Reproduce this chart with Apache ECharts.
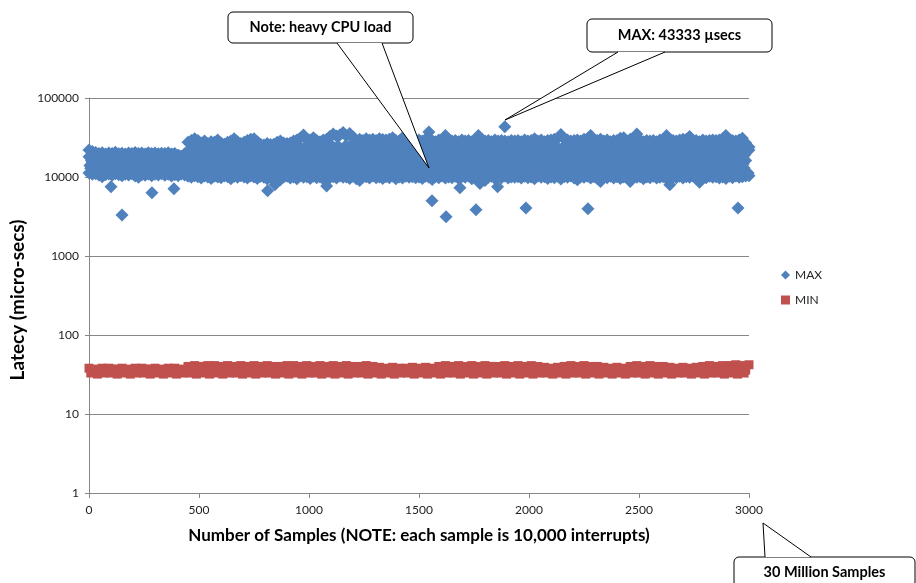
<!DOCTYPE html>
<html><head><meta charset="utf-8">
<script src="https://cdn.jsdelivr.net/npm/echarts@6/dist/echarts.min.js"></script>
<style>html,body{margin:0;padding:0;background:#fff}#c{width:916px;height:583px}</style>
</head><body><div id="c"></div><script>
// ---- DATA (latency in micro-seconds, x = sample number) ----
const xTicks = [0, 500, 1000, 1500, 2000, 2500, 3000];
const yTicks = [1, 10, 100, 1000, 10000, 100000];
const seriesNames = ['MAX', 'MIN'];

// MAX: upper edge of the cloud, one reading every 15 samples (0..3000)
const maxTopStep = 15;
const maxTop = [
 22000,21000,20400,19800,20300,19600,20100,19900,20500,19700,
 20000,19600,20200,19800,20400,19900,20100,19500,20300,19800,
 20200,19700,20000,19900,20300,19600,19800,18800,18300,19500,
 27500,29000,30500,29000,27000,28500,26500,28000,27500,29500,
 27000,26000,27500,28500,30500,28000,26500,27500,29000,30000,
 30500,28000,26000,25500,26500,25800,26000,27500,28500,27000,
 26500,27000,28500,29500,31000,34000,30000,29500,31500,29000,
 28000,29500,30000,32500,35000,33000,34000,36500,33000,35500,
 32000,29500,30000,29000,30500,29500,30000,29000,30500,29800,
 29500,30000,31500,29000,28500,31500,29500,28500,29500,28800,
 29500,28500,30000,37000,29000,28000,29500,30000,33500,30000,
 28500,29000,28000,29500,28500,29000,28000,29500,33500,30000,
 28500,29000,28000,29500,28500,29000,28500,28000,29000,28500,
 29000,28000,29500,28500,29000,30500,28500,29500,28000,29000,
 29500,30000,31000,34500,30500,29500,28500,29000,29500,28500,
 30000,30500,33500,28500,29000,30000,28500,29500,28000,29000,
 29000,31000,31500,28500,30000,29000,35000,29500,28000,29000,
 28500,29000,28000,29500,29000,33500,30000,29000,28500,29500,
 30000,30000,32500,28500,29000,28000,29500,28500,29000,29500,
 29000,29500,30500,33500,30000,29000,28500,29500,31000,27000,
 24000
];
// MAX: lower edge of the cloud, every 15 samples
const maxBottom = [
 11200,10800,11000,10600,10100,10700,10900,10500,11000,10700,
 10400,10800,10600,11000,10300,9900,10700,10500,10900,10400,
 10800,10600,11000,10500,10800,10300,10700,10400,10900,10600,
 10200,9900,10400,10100,9700,10300,10000,9600,10200,10000,
 9800,10300,10100,9500,10200,9900,10400,10000,9700,10300,
 10000,9600,10200,9900,9400,10100,10300,9800,9200,10000,
 10200,9700,10000,9500,10300,9900,10100,9600,10200,9800,
 10000,9400,10200,9800,10100,9700,10300,9900,10000,9600,
 10200,9500,9000,9900,10100,9700,10300,9800,10000,9600,
 10100,9800,10300,9500,10000,9700,10200,9900,10100,9800,
 10000,9600,10200,9900,9300,10100,9800,10300,9700,10000,
 9800,10200,9600,10100,9900,10300,9500,10000,9700,10200,
 9000,9900,10200,9600,10100,9800,10300,9700,10000,9900,
 10100,9700,10200,9800,10000,9500,10300,9900,10100,9600,
 10000,9800,10200,9400,10100,9900,10300,9700,9200,10000,
 9900,10200,9700,10100,9600,8800,10000,9800,10200,9700,
 10100,9600,10000,9800,8800,10200,9900,10100,9500,10000,
 9800,10200,9700,9900,10100,9600,8000,10000,9800,10200,
 9700,10100,9900,10300,9600,8600,10000,9800,10200,9900,
 10100,9700,10000,9600,10200,9800,10300,9900,10100,10300,
 10400
];
// MAX: body of the cloud, every 30 samples (interleaved readings)
const maxFillStep = 30;
const maxHigh = [
 19000,18600,19300,18800,19100,18500,19200,18900,19400,18700,19000,18600,19200,18400,18000,
 24800,23600,25400,24200,25800,23800,24600,25200,23400,24900,
 25600,24000,24400,25000,23700,25500,24300,23900,25100,24700,
 23500,25300,24600,24100,25700,23800,24500,25000,24200,23600,
 25400,24800,23900,25200,24400,25800,23700,24600,25100,24000,
 24700,25500,23800,24300,25000,24500,23600,25300,24100,24900,
 25600,23900,24400,25200,24000,24800,23500,25400,24600,24200,
 25000,23800,25700,24300,24700,25100,23700,24500,25300,24100,
 23900,25500,24400,24800,23600,25000,24200,25600,24600,23800,
 24900,25200,24000,24500,23700
];
const maxUpper = [
 18000,17200,17800,17000,17600,17300,17900,17100,17700,17400,17800,17000,17500,17200,16800,
 21500,23000,22000,24000,21000,22500,23500,21500,22800,20800,
 23200,22000,21200,23800,22400,21000,22600,23400,21800,22200,
 20600,23600,22000,21400,24200,22800,21000,22400,23000,21600,
 22800,20800,23400,22000,21200,23800,22600,21000,22200,23200,
 21400,22800,20600,23600,22400,21800,23000,21200,22600,23400,
 21600,22000,24000,21000,22800,22200,20800,23200,22400,21400,
 23600,22000,21200,22800,23400,21600,22200,20800,23000,22600,
 21400,23800,22000,21000,22400,23200,21800,22800,21200,22600,
 23000,21400,22200,23600,21800,22000
];
const maxMidHigh = [
 16200,16500,16000,16400,16100,16600,15900,16300,16500,16000,16400,16200,16600,16100,16300,
 19200,18600,19600,18900,19400,18700,19800,19000,18500,19300,
 18800,19500,19100,18600,19700,18900,19200,18700,19400,19000,
 18500,19600,18800,19300,19100,18600,19800,18900,19200,18700,
 19500,19000,18600,19400,18800,19700,19100,18500,19300,18900,
 19600,18700,19200,19000,18600,19500,18800,19400,19100,18700,
 19800,18900,19300,18600,19200,19000,18500,19600,18800,19400,
 19100,18700,19500,18900,19200,18600,19700,19000,18800,19300,
 18700,19600,19100,18500,19400,18900,19200,18800,19500,19000,
 18600,19300,18900,19700,19100
];
const maxMiddle = [
 15200,14800,15400,14600,15100,14900,15300,14700,15200,14800,15000,14600,15300,14900,15100,
 16800,16000,17400,16400,15800,17000,16600,15600,17200,16200,
 16800,15900,17500,16300,16000,17100,16500,15700,16900,16400,
 17300,15800,16600,17000,16200,15600,17400,16800,16000,16500,
 17200,15900,16700,16300,17500,16100,15700,16900,16400,17100,
 16000,16800,15800,17300,16500,16200,17000,15600,16600,17200,
 16300,15900,17400,16700,16100,16900,15800,17100,16400,16000,
 17300,16600,15700,16800,16200,17000,16500,15900,17200,16300,
 16700,16000,17400,16400,15800,16900,16200,17100,16600,16000,
 16800,15700,17000,16400,16200
];
const maxMidLow = [
 14000,13700,14200,13800,14100,13600,14300,13900,14000,13700,14200,13800,14100,13900,14000,
 14600,14200,15000,14400,14800,14100,15200,14500,14300,14900,
 14700,14200,15100,14400,14600,14000,14900,14500,15200,14300,
 14800,14100,14600,15000,14400,14700,14200,15100,14500,14300,
 14900,14600,14000,14800,15200,14400,14700,14100,14500,15000,
 14300,14800,14600,14200,15100,14400,14900,14000,14700,14500,
 15200,14300,14600,14800,14100,15000,14400,14700,14200,14900,
 14500,15100,14300,14600,14000,14800,14400,15000,14700,14200,
 14900,14500,14100,15200,14600,14300,14800,14400,15000,14700,
 14200,14900,14500,14100,14600
];
const maxLower = [
 12900,12500,13100,12400,12800,12600,13000,12300,12900,12500,12700,12400,13000,12600,12800,
 13200,12600,13600,12400,13000,12800,13400,12200,13100,12700,
 13500,12500,12900,13300,12300,13000,12600,13400,12800,12400,
 13200,12700,13600,12300,12900,13100,12500,13400,12800,12200,
 13000,13300,12600,12900,13500,12400,13100,12700,12300,13200,
 12800,13400,12500,13000,12600,13300,12200,12900,13500,12700,
 12400,13100,12800,13400,12300,13000,12600,13200,12900,12500,
 13600,12700,12400,13100,12800,13300,12200,13000,12600,13400,
 12900,12500,13200,12700,13500,12300,13000,12800,12400,13100,
 12600,13300,12900,12500,13000
];
const maxBase = [
 11800,11600,11900,11500,11800,11700,12000,11600,11900,11500,11800,11700,11900,11600,11800,
 11400,11000,11700,11200,11500,11100,11800,11300,11600,11000,
 11400,11900,11200,11500,11100,11700,11300,11600,11000,11400,
 11800,11200,11500,11100,11700,11300,11600,11000,11400,11900,
 11200,11500,11100,11700,11300,11600,11000,11400,11800,11200,
 11500,11100,11700,11300,11600,11000,11400,11900,11200,11500,
 11100,11700,11300,11600,11000,11400,11800,11200,11500,11100,
 11700,11300,11600,11000,11400,11900,11200,11500,11100,11700,
 11300,11600,11000,11400,11800,11200,11500,11100,11700,11300,
 11600,11000,11400,11900,11200
];
// MAX: isolated readings [sample, latency]
const maxOutliers = [
 [100,7500],[150,3300],[286,6300],[386,7100],[812,6700],[845,8000],[1080,7700],
 [1559,5000],[1623,3150],[1686,7300],[1759,3850],[1777,8300],[1857,7500],
 [1890,43333],[1986,4060],[2268,3950],[2950,4060]
];

// MIN: every 30 samples, three interleaved readings
const minStep = 30;
const minHigh = [
 38,37,38,38,37,38,37,38,38,37,38,37,38,38,37,
 40,41,40,41,41,40,41,40,41,40,
 41,40,41,40,40,41,41,40,41,40,
 41,40,41,40,41,40,40,41,40,39,
 38,39,38,38,39,38,39,38,40,41,
 40,41,40,41,40,41,40,40,41,40,
 41,40,41,40,39,38,39,40,41,40,
 41,40,40,39,38,39,38,40,41,40,
 41,40,40,39,38,39,38,39,40,41,
 40,41,41,42,41,42
];
const minMid = [
 36,35,36,37,35,36,36,35,37,36, 35,36,37,36,35,36,37,36,35,37,
 36,35,36,37,36,35,36,37,35,36, 37,36,35,36,36,37,35,36,37,36,
 35,36,37,35,36,36,37,36,35,36, 37,36,35,36,37,36,36,35,37,36,
 35,36,37,36,35,36,37,35,36,37, 36,35,36,37,36,35,36,37,36,35,
 36,37,35,36,37,36,35,36,37,36, 35,36,37,36,35,36,37,36,35,36
];
const minLow = [
 33,32,33,33,32,33,32,33,33,32, 33,32,33,32,33,33,32,33,32,33,
 32,33,33,32,33,32,33,33,32,33, 32,33,32,33,33,32,33,32,33,32,
 33,33,32,33,32,33,32,33,33,32, 33,32,33,32,33,33,32,33,32,33,
 32,33,33,32,33,32,33,32,33,33, 32,33,32,33,33,32,33,32,33,32,
 33,32,33,33,32,33,32,33,32,33, 33,32,33,32,33,33,32,33,32,33
];

// ---- build series data ----
function track(values, step, offset) { return values.map((v, i) => [i * step + offset, v]); }
const maxData = [].concat(
  track(maxTop, maxTopStep, 0),
  track(maxHigh, maxFillStep, 22),
  track(maxUpper, maxFillStep, 0),
  track(maxMidHigh, maxFillStep, 11),
  track(maxMiddle, maxFillStep, 15),
  track(maxMidLow, maxFillStep, 4),
  track(maxLower, maxFillStep, 8),
  track(maxBase, maxFillStep, 26),
  track(maxBottom, maxTopStep, 0),
  maxOutliers
);
const minData = [].concat(
  track(minHigh, minStep, 0),
  track(minMid, minStep, 15),
  track(minLow, minStep, 8)
);

const FONT = 'Lato';
const chart = echarts.init(document.getElementById('c'), null, {renderer: 'canvas'});

function callout(box, base, tip, text) {
  const [x, y, w, h] = box;
  return {
    type: 'group',
    children: [
      {type: 'rect', z: 100, shape: {x, y, width: w, height: h, r: 5},
       style: {fill: '#fff', stroke: '#000', lineWidth: 1}},
      {type: 'polygon', z: 101, shape: {points: [[base[0], base[2]], [base[1], base[2]], tip]},
       style: {fill: '#fff', stroke: null}},
      {type: 'polyline', z: 102, shape: {points: [[base[0], base[2]], tip, [base[1], base[2]]]},
       style: {stroke: '#000', lineWidth: 1, fill: null}},
      {type: 'text', z: 103, x: x + w / 2, y: y + h / 2,
       style: {text, fontFamily: FONT, fontWeight: 'bold', fontSize: 14.5, fill: '#000',
               align: 'center', verticalAlign: 'middle'}}
    ]
  };
}

chart.setOption({
  animation: false,
  backgroundColor: '#fff',
  grid: {left: 89, right: 167, top: 98, bottom: 90, containLabel: false},
  legend: {
    orient: 'vertical', left: 776, top: 264, itemGap: 13, itemWidth: 9, itemHeight: 9,
    textStyle: {fontFamily: FONT, fontSize: 12, color: '#222'},
    data: [{name: seriesNames[0], icon: 'diamond'}, {name: seriesNames[1], icon: 'rect'}]
  },
  xAxis: {
    type: 'value', min: xTicks[0], max: xTicks[xTicks.length - 1], interval: 500,
    name: 'Number of Samples (NOTE: each sample is 10,000 interrupts)',
    nameLocation: 'middle', nameGap: 34,
    nameTextStyle: {fontFamily: FONT, fontWeight: 'bold', fontSize: 17, color: '#000'},
    axisLine: {show: true, lineStyle: {color: '#868686'}},
    axisTick: {show: true, length: 5, lineStyle: {color: '#868686'}},
    axisLabel: {fontFamily: FONT, fontSize: 12, color: '#222', margin: 11,
                formatter: v => String(Math.round(v))},
    splitLine: {show: false}
  },
  yAxis: {
    type: 'log', logBase: 10, min: yTicks[0], max: yTicks[yTicks.length - 1],
    axisLine: {show: true, lineStyle: {color: '#868686'}},
    axisTick: {show: true, length: 4, lineStyle: {color: '#868686'}},
    axisLabel: {fontFamily: FONT, fontSize: 12, color: '#222', margin: 10,
                formatter: v => String(Math.round(v))},
    splitLine: {show: true, lineStyle: {color: '#868686', width: 1}}
  },
  series: [
    {name: seriesNames[0], type: 'scatter', symbol: 'diamond', symbolSize: 13,
     itemStyle: {color: '#4F81BD', opacity: 1}, data: maxData, z: 3},
    {name: seriesNames[1], type: 'scatter', symbol: 'rect', symbolSize: 9,
     itemStyle: {color: '#C0504D', opacity: 1}, data: minData, z: 3}
  ],
  graphic: [
    {type: 'text', x: 18, y: 300, rotation: Math.PI / 2, z: 50,
     style: {text: 'Latecy (micro-secs)', fontFamily: FONT, fontWeight: 'bold', fontSize: 19,
             fill: '#000', align: 'center', verticalAlign: 'middle'}},
    callout([228, 12, 185, 31], [337, 382, 43], [429, 168], 'Note: heavy CPU load'),
    callout([587, 19, 185, 33], [618, 665, 52], [505, 120], 'MAX: 43333 µsecs'),
    callout([734, 557, 181, 30], [765, 811, 557], [763, 523], '30 Million Samples')
  ]
});
</script></body></html>
